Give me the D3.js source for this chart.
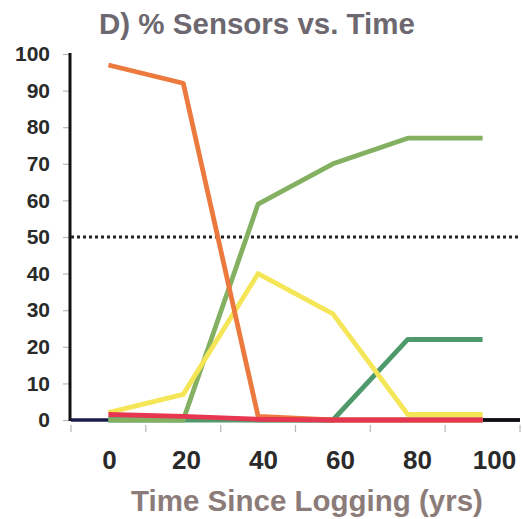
<!DOCTYPE html>
<html>
<head>
<meta charset="utf-8">
<script src="https://cdn.jsdelivr.net/npm/d3@7"></script>
<style>
html,body{margin:0;padding:0;background:#fff;}
svg{display:block;}
text{font-family:"Liberation Sans",Arial,Helvetica,sans-serif;font-weight:bold;}
</style>
</head>
<body>
<div id="chart"></div>
<script>
const categories = ["0","20","40","60","80","100"];
const yTicks = [0,10,20,30,40,50,60,70,80,90,100];
const teal = [0.4,0.3,0,0,0,0];
const darkGreen = [0,0,0,0,22,22];
const lightGreen = [0,0,59,70,77,77];
const yellow = [2,7,40,29,1.5,1.5];
const orange = [97,92,1,0,0,0];
const red = [1.5,1,0.2,0,0,0];
const threshold = 50;

const series = [
  {name:"teal", values:teal, color:"#6db3a6"},
  {name:"darkGreen", values:darkGreen, color:"#4f9a6c"},
  {name:"lightGreen", values:lightGreen, color:"#84b062"},
  {name:"yellow", values:yellow, color:"#f4e657"},
  {name:"orange", values:orange, color:"#ec7a3e"},
  {name:"red", values:red, color:"#e63650"}
];

const W = 522, H = 519;
const svg = d3.select("#chart").append("svg").attr("width",W).attr("height",H);

const x = d3.scaleBand().domain(categories).range([71,520]);
const xLabel = d3.scalePoint().domain(categories).range([109,494]);
const y = d3.scaleLinear().domain([0,100]).range([420,54]);

// title
svg.append("text").attr("x",257).attr("y",34).attr("text-anchor","middle")
  .attr("fill","#6d6870").attr("font-size",29.5)
  .text("D) % Sensors vs. Time");

// y axis
const yAxis = d3.axisLeft(y).tickValues(yTicks).tickSize(7).tickPadding(13);
const gy = svg.append("g").attr("transform","translate(70,0)").call(yAxis);
gy.select(".domain").remove();
gy.selectAll(".tick line").attr("stroke","#b8b8b8").attr("stroke-width",1.2);
gy.selectAll(".tick text").attr("font-size",21).attr("fill","#2a2a2a")
  .attr("font-family","'Liberation Sans',Arial,sans-serif").attr("font-weight","bold");
svg.append("line").attr("x1",70).attr("x2",70).attr("y1",y(100)-1).attr("y2",y(0)+1)
  .attr("stroke","#111").attr("stroke-width",3);

// x axis labels
const xAxis = d3.axisBottom(xLabel).tickSize(0).tickPadding(31);
const gx = svg.append("g").attr("transform","translate(0,420)").call(xAxis);
gx.select(".domain").remove();
gx.selectAll(".tick text").attr("font-size",26).attr("fill","#2a2a2a")
  .attr("font-family","'Liberation Sans',Arial,sans-serif").attr("font-weight","bold");
// band boundary ticks
const bounds = categories.map(c=>x(c)).concat([x(categories[categories.length-1])+x.bandwidth()]);
svg.selectAll(".btick").data(bounds).enter().append("line")
  .attr("x1",d=>d).attr("x2",d=>d).attr("y1",425).attr("y2",432)
  .attr("stroke","#b8b8b8").attr("stroke-width",1.2);
// baseline
svg.append("line").attr("x1",71).attr("x2",520).attr("y1",y(0)).attr("y2",y(0))
  .attr("stroke","#1b1b4a").attr("stroke-width",3.5);
svg.append("line").attr("x1",x("100")+x.bandwidth()/2).attr("x2",520).attr("y1",y(0)).attr("y2",y(0))
  .attr("stroke","#111").attr("stroke-width",3.5);

// threshold dotted line
svg.append("line").attr("x1",71).attr("x2",520).attr("y1",y(threshold)).attr("y2",y(threshold))
  .attr("stroke","#222").attr("stroke-width",3).attr("stroke-dasharray","3,3");

// series lines
const line = d3.line().x((d,i)=>x(categories[i])+x.bandwidth()/2).y(d=>y(d));
svg.selectAll(".series").data(series).enter().append("path")
  .attr("fill","none").attr("stroke",d=>d.color).attr("stroke-width",4.8)
  .attr("stroke-linejoin","round")
  .attr("d",d=>line(d.values));

// x axis title
svg.append("text").attr("x",307).attr("y",511).attr("text-anchor","middle")
  .attr("fill","#8c7c79").attr("font-size",29.5)
  .text("Time Since Logging (yrs)");
</script>
</body>
</html>
